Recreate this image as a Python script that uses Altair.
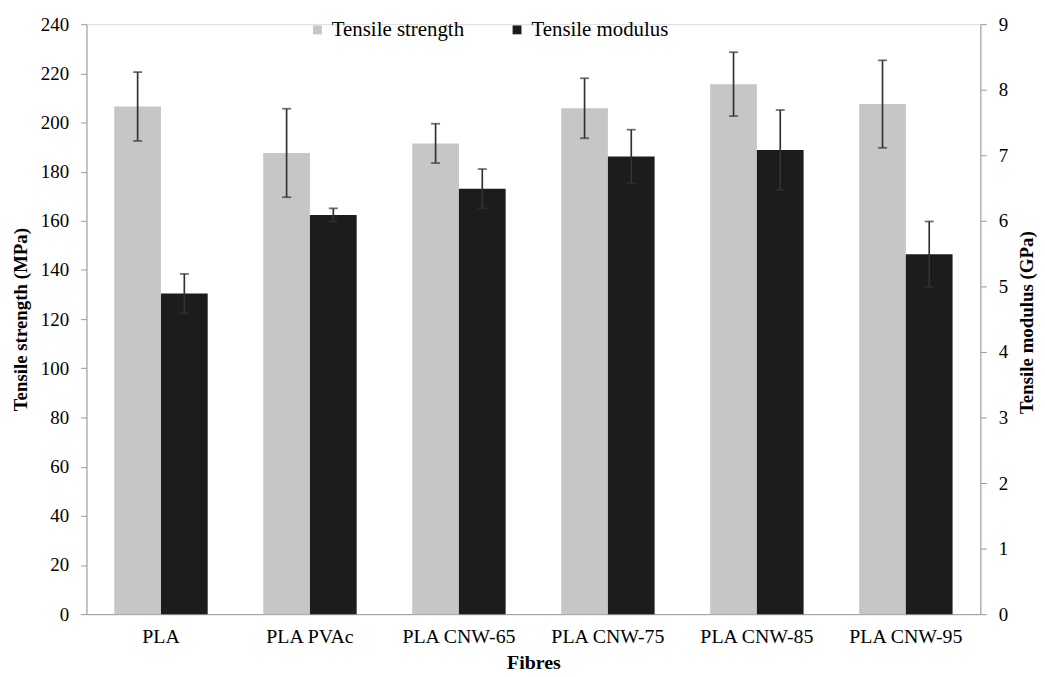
import altair as alt
import pandas as pd

categories = ["PLA", "PLA PVAc", "PLA CNW-65", "PLA CNW-75", "PLA CNW-85", "PLA CNW-95"]
strength = [206.5, 187.6, 191.5, 205.8, 215.6, 207.5]
strength_err = [14.0, 18.0, 8.0, 12.2, 13.0, 17.8]
modulus = [4.89, 6.09, 6.49, 6.98, 7.08, 5.49]
modulus_err = [0.30, 0.10, 0.30, 0.41, 0.61, 0.50]
series = ["Tensile strength", "Tensile modulus"]

df_s = pd.DataFrame({"cat": categories, "series": series[0], "v": strength,
                     "lo": [a - b for a, b in zip(strength, strength_err)],
                     "hi": [a + b for a, b in zip(strength, strength_err)]})
df_m = pd.DataFrame({"cat": categories, "series": series[1], "v": modulus,
                     "lo": [a - b for a, b in zip(modulus, modulus_err)],
                     "hi": [a + b for a, b in zip(modulus, modulus_err)]})

FONT = "Liberation Serif"

x = alt.X("cat:N", sort=categories, title="Fibres",
          scale=alt.Scale(paddingInner=0.373, paddingOuter=0.1867),
          axis=alt.Axis(labelAngle=0, ticks=False, labelPadding=13, titlePadding=6,
                        domainColor="#9a9a9a", labelFontSize=20, titleFontSize=20,
                        titleFontWeight="bold", labelColor="#000", titleColor="#000"))
xo = alt.XOffset("series:N", scale=alt.Scale(domain=series, paddingInner=0, paddingOuter=0))
color = alt.Color("series:N", scale=alt.Scale(domain=series, range=["#c6c6c6", "#1c1c1c"]),
                  legend=alt.Legend(title=None, orient="none", direction="horizontal",
                                    legendX=222, legendY=-5, columns=2, columnPadding=42,
                                    symbolType="square", symbolSize=80, symbolStrokeWidth=0,
                                    labelFontSize=21, labelFont=FONT, labelColor="#000",
                                    labelOffset=4, padding=0))

def layer(df, domain, title, orient, step, extra):
    y = alt.Y("v:Q", title=title,
              scale=alt.Scale(domain=domain, nice=False, zero=True),
              axis=alt.Axis(orient=orient, grid=False, format="d", titleAngle=270,
                            values=[i * step for i in range(int(domain[1] / step) + 1)],
                            domainColor="#9a9a9a", tickColor="#9a9a9a", tickSize=6,
                            labelPadding=12, labelFontSize=19, titleFontSize=19,
                            titleFontWeight="bold", labelColor="#000", titleColor="#000",
                            **extra))
    bars = alt.Chart(df).mark_bar().encode(x=x, xOffset=xo, y=y, color=color)
    rules = alt.Chart(df).mark_rule(color="#333", strokeWidth=1.7).encode(
        x=x, xOffset=xo, y=alt.Y("lo:Q"), y2="hi:Q")
    caps_hi = alt.Chart(df).mark_tick(color="#333", size=9, thickness=1.8).encode(
        x=x, xOffset=xo, y=alt.Y("hi:Q"))
    caps_lo = alt.Chart(df).mark_tick(color="#333", size=9, thickness=1.8).encode(
        x=x, xOffset=xo, y=alt.Y("lo:Q"))
    return alt.layer(bars, rules, caps_hi, caps_lo)

left = layer(df_s, [0, 240], "Tensile strength (MPa)", "left", 20, {"titlePadding": 10})
right = layer(df_m, [0, 9], "Tensile modulus  (GPa)", "right", 1,
              {"titleX": 46, "titleY": 300, "titleBaseline": "middle", "titleAlign": "center"})

chart = alt.layer(left, right).resolve_scale(y="independent").properties(
    width=900, height=594,
    autosize=alt.AutoSizeParams(type="none"),
    padding={"left": 79, "top": 14, "right": 57, "bottom": 61},
).configure_view(stroke=None).configure(font=FONT).configure_axis(labelFont=FONT, titleFont=FONT)

chart.save("out.html", embed_options={"renderer": "svg", "actions": False})
